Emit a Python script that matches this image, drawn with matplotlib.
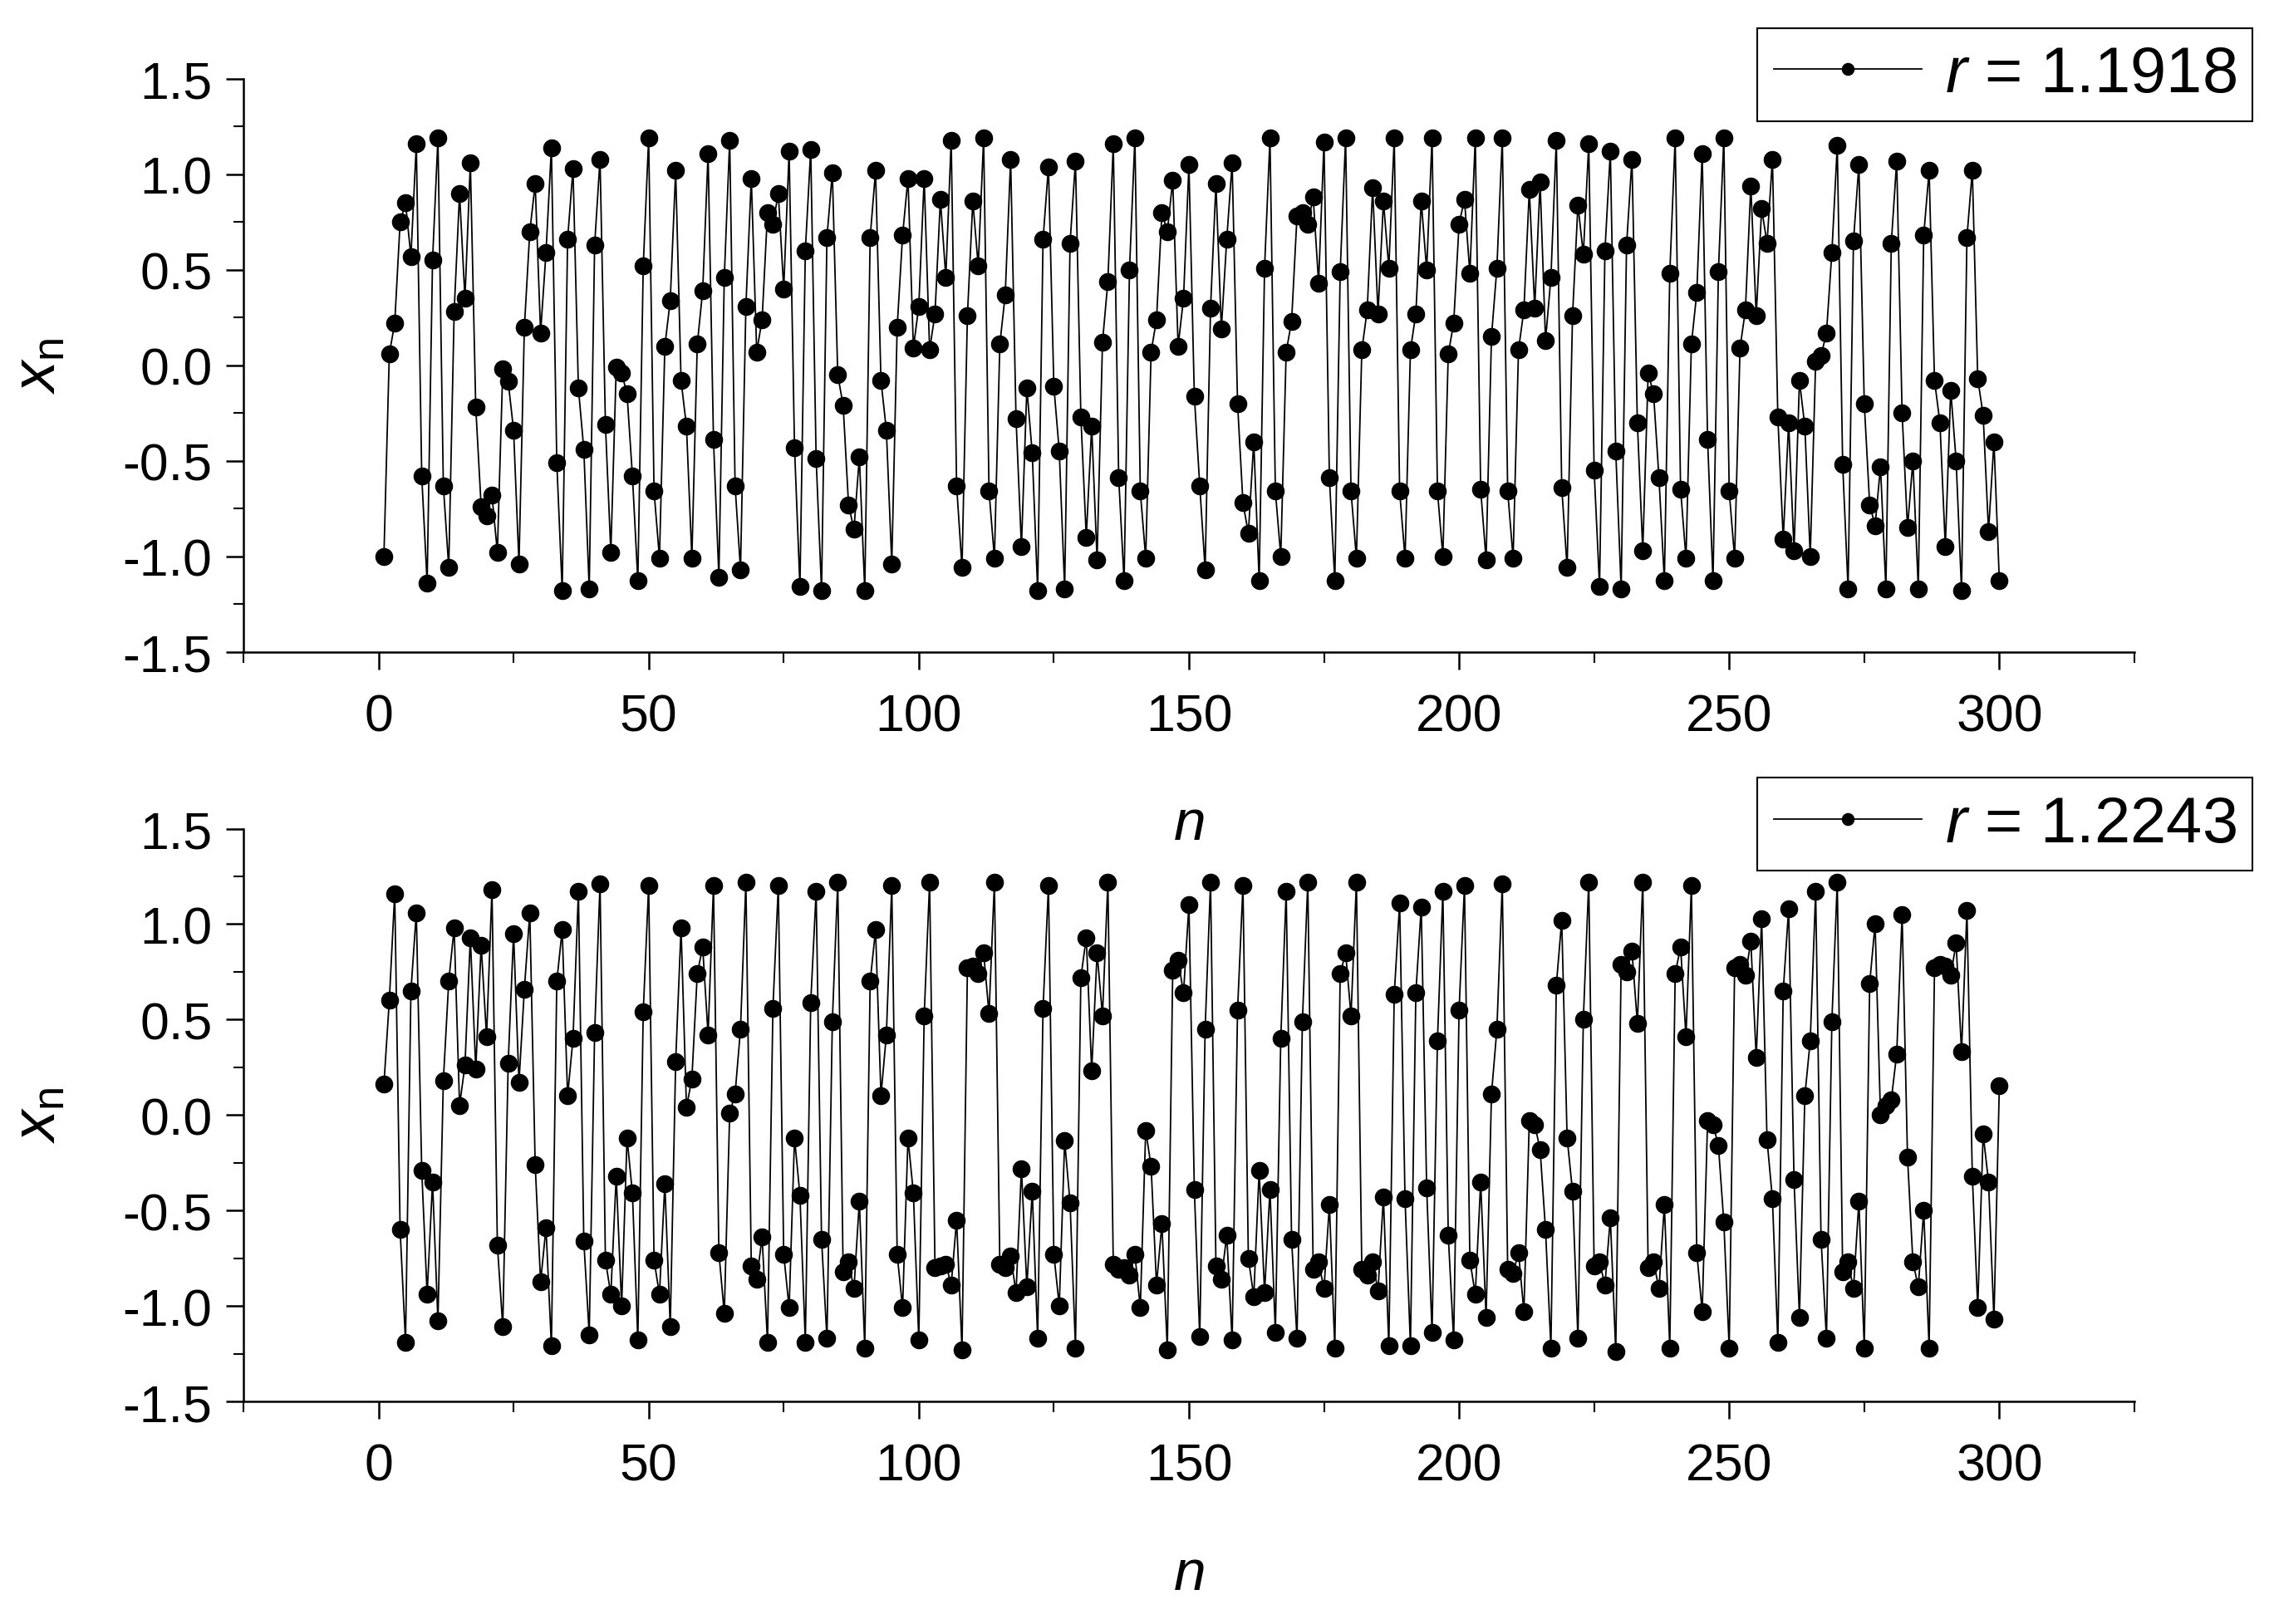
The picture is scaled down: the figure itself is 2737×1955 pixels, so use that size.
import numpy as np
import matplotlib
matplotlib.use("Agg")
import matplotlib.pyplot as plt
from matplotlib.ticker import MultipleLocator

plt.rcParams['font.family'] = ['Liberation Sans', 'DejaVu Sans']
plt.rcParams['mathtext.fontset'] = 'custom'
plt.rcParams['mathtext.rm'] = 'Liberation Sans'
plt.rcParams['mathtext.it'] = 'Liberation Sans:italic'

r_values = ["1.1918", "1.2243"]

x_top = [
    -1.00, 0.06, 0.22, 0.75, 0.85, 0.57, 1.16, -0.58, -1.14, 0.55,
    1.19, -0.63, -1.06, 0.28, 0.90, 0.35, 1.06, -0.22, -0.74, -0.79,
    -0.68, -0.98, -0.02, -0.085, -0.34, -1.04, 0.20, 0.70, 0.95, 0.17,
    0.59, 1.14, -0.51, -1.18, 0.66, 1.03, -0.12, -0.44, -1.17, 0.63,
    1.08, -0.31, -0.98, -0.01, -0.04, -0.15, -0.58, -1.13, 0.52, 1.19,
    -0.66, -1.01, 0.10, 0.34, 1.02, -0.08, -0.32, -1.01, 0.11, 0.39,
    1.11, -0.39, -1.11, 0.46, 1.18, -0.63, -1.07, 0.31, 0.98, 0.07,
    0.24, 0.80, 0.74, 0.90, 0.40, 1.12, -0.43, -1.16, 0.60, 1.13,
    -0.49, -1.18, 0.67, 1.01, -0.05, -0.21, -0.73, -0.86, -0.48, -1.18,
    0.67, 1.02, -0.08, -0.34, -1.04, 0.20, 0.68, 0.98, 0.09, 0.31,
    0.98, 0.08, 0.27, 0.87, 0.46, 1.18, -0.63, -1.06, 0.26, 0.86,
    0.52, 1.19, -0.66, -1.01, 0.11, 0.37, 1.08, -0.28, -0.95, -0.12,
    -0.46, -1.18, 0.66, 1.04, -0.11, -0.45, -1.17, 0.64, 1.07, -0.27,
    -0.90, -0.32, -1.02, 0.12, 0.44, 1.16, -0.59, -1.13, 0.50, 1.19,
    -0.66, -1.01, 0.07, 0.24, 0.80, 0.70, 0.97, 0.10, 0.35, 1.05,
    -0.16, -0.63, -1.07, 0.30, 0.95, 0.19, 0.66, 1.06, -0.20, -0.72,
    -0.88, -0.40, -1.13, 0.51, 1.19, -0.66, -1.00, 0.07, 0.23, 0.78,
    0.80, 0.74, 0.88, 0.43, 1.17, -0.59, -1.13, 0.49, 1.19, -0.66,
    -1.01, 0.08, 0.29, 0.93, 0.27, 0.86, 0.51, 1.19, -0.66, -1.01,
    0.08, 0.27, 0.86, 0.50, 1.19, -0.66, -1.00, 0.06, 0.22, 0.74,
    0.87, 0.48, 1.19, -0.65, -1.02, 0.15, 0.51, 1.19, -0.66, -1.01,
    0.08, 0.29, 0.92, 0.30, 0.96, 0.13, 0.46, 1.18, -0.64, -1.06,
    0.26, 0.84, 0.58, 1.16, -0.55, -1.16, 0.60, 1.12, -0.45, -1.17,
    0.63, 1.08, -0.30, -0.97, -0.04, -0.15, -0.59, -1.13, 0.48, 1.19,
    -0.65, -1.01, 0.11, 0.38, 1.11, -0.39, -1.13, 0.49, 1.19, -0.66,
    -1.01, 0.09, 0.29, 0.94, 0.26, 0.82, 0.64, 1.08, -0.27, -0.91,
    -0.30, -0.97, -0.08, -0.32, -1.00, 0.02, 0.05, 0.17, 0.59, 1.15,
    -0.52, -1.17, 0.65, 1.05, -0.20, -0.73, -0.84, -0.53, -1.17, 0.64,
    1.07, -0.25, -0.85, -0.50, -1.17, 0.68, 1.02, -0.08, -0.30, -0.95,
    -0.13, -0.50, -1.18, 0.67, 1.02, -0.07, -0.26, -0.87, -0.40, -1.13,
]

x_bot = [
    0.16, 0.60, 1.16, -0.60, -1.19, 0.65, 1.06, -0.29, -0.94, -0.35,
    -1.08, 0.18, 0.70, 0.98, 0.05, 0.26, 0.93, 0.24, 0.89, 0.41,
    1.18, -0.68, -1.11, 0.27, 0.95, 0.17, 0.66, 1.06, -0.26, -0.875,
    -0.59, -1.21, 0.70, 0.97, 0.10, 0.40, 1.17, -0.66, -1.15, 0.43,
    1.21, -0.76, -0.94, -0.32, -1.00, -0.12, -0.41, -1.18, 0.54, 1.20,
    -0.76, -0.94, -0.36, -1.11, 0.28, 0.98, 0.04, 0.19, 0.74, 0.88,
    0.42, 1.20, -0.72, -1.04, 0.01, 0.11, 0.45, 1.22, -0.79, -0.86,
    -0.64, -1.19, 0.56, 1.20, -0.73, -1.01, -0.12, -0.42, -1.19, 0.59,
    1.17, -0.65, -1.17, 0.49, 1.22, -0.82, -0.77, -0.91, -0.45, -1.22,
    0.70, 0.97, 0.10, 0.42, 1.20, -0.73, -1.01, -0.12, -0.41, -1.18,
    0.52, 1.22, -0.80, -0.79, -0.78, -0.89, -0.55, -1.23, 0.77, 0.78,
    0.74, 0.85, 0.53, 1.22, -0.78, -0.80, -0.74, -0.93, -0.28, -0.90,
    -0.40, -1.17, 0.56, 1.20, -0.73, -1.00, -0.135, -0.46, -1.22, 0.72,
    0.93, 0.23, 0.85, 0.52, 1.22, -0.78, -0.81, -0.80, -0.84, -0.73,
    -1.01, -0.08, -0.27, -0.89, -0.57, -1.23, 0.76, 0.81, 0.64, 1.10,
    -0.39, -1.16, 0.45, 1.22, -0.79, -0.86, -0.63, -1.18, 0.55, 1.20,
    -0.75, -0.95, -0.29, -0.93, -0.39, -1.14, 0.40, 1.17, -0.65, -1.17,
    0.49, 1.22, -0.81, -0.77, -0.91, -0.47, -1.22, 0.74, 0.85, 0.52,
    1.22, -0.81, -0.84, -0.77, -0.92, -0.43, -1.21, 0.63, 1.11, -0.44,
    -1.21, 0.64, 1.09, -0.38, -1.14, 0.39, 1.17, -0.63, -1.18, 0.55,
    1.20, -0.76, -0.94, -0.35, -1.06, 0.11, 0.45, 1.21, -0.81, -0.83,
    -0.72, -1.03, -0.03, -0.05, -0.18, -0.60, -1.22, 0.68, 1.02, -0.12,
    -0.40, -1.17, 0.50, 1.22, -0.79, -0.77, -0.89, -0.54, -1.24, 0.79,
    0.75, 0.86, 0.48, 1.22, -0.80, -0.77, -0.91, -0.47, -1.22, 0.74,
    0.88, 0.41, 1.20, -0.72, -1.03, -0.03, -0.05, -0.16, -0.56, -1.22,
    0.77, 0.79, 0.73, 0.91, 0.30, 1.03, -0.13, -0.44, -1.19, 0.65,
    1.08, -0.34, -1.06, 0.10, 0.39, 1.17, -0.65, -1.17, 0.49, 1.22,
    -0.82, -0.77, -0.91, -0.45, -1.22, 0.69, 1.00, 0.00, 0.05, 0.08,
    0.32, 1.05, -0.22, -0.77, -0.90, -0.50, -1.22, 0.77, 0.79, 0.78,
    0.73, 0.90, 0.33, 1.07, -0.32, -1.01, -0.10, -0.35, -1.07, 0.155,
]

series = [x_top, x_bot]

W, H = 2737, 1956
fig = plt.figure(figsize=(W / 100, H / 100), dpi=100)

left = 293 / W
width = (2569 - 293) / W
axes_rects = [
    [left, 1 - 785.5 / H, width, (785.5 - 96) / H],
    [left, 1 - 1688 / H, width, (1688 - 998.5) / H],
]

for rect, ys, rv in zip(axes_rects, series, r_values):
    ax = fig.add_axes(rect)
    ax.patch.set_visible(False)
    n = np.arange(1, len(ys) + 1)
    ax.plot(n, ys, color='black', linewidth=1.3, marker='o', markersize=14.5,
            markerfacecolor='black', markeredgecolor='black',
            label=r'$r$ = ' + rv)
    ax.set_xlim(-25, 325)
    ax.set_ylim(-1.5, 1.5)
    ax.xaxis.set_major_locator(MultipleLocator(50))
    ax.xaxis.set_minor_locator(MultipleLocator(25))
    ax.yaxis.set_major_locator(MultipleLocator(0.5))
    ax.yaxis.set_minor_locator(MultipleLocator(0.25))
    ax.yaxis.set_major_formatter(matplotlib.ticker.FormatStrFormatter('%.1f'))
    for s in ['top', 'right']:
        ax.spines[s].set_visible(False)
    for s in ['left', 'bottom']:
        ax.spines[s].set_linewidth(1.8)
    ax.tick_params(which='major', direction='out', length=15, width=1.8,
                   labelsize=45, pad=12)
    ax.tick_params(which='minor', direction='out', length=9, width=1.5)
    ax.tick_params(axis='x', which='major', pad=20)
    ax.set_xlabel(r'$n$', fontsize=50)
    ax.xaxis.set_label_coords(0.5, -0.255)
    ax.set_ylabel(r'$x_{\mathrm{n}}$', fontsize=54)
    ax.yaxis.set_label_coords(-0.093, 0.5)
    leg = ax.legend(loc='upper right', bbox_to_anchor=(1.0624, 1.0885),
                    borderaxespad=0, fontsize=56, frameon=True, fancybox=False,
                    framealpha=1, edgecolor='black', handlelength=2.3,
                    handletextpad=0.35, borderpad=0.25, markerscale=0.7)
    leg.get_frame().set_linewidth(1.5)

fig.savefig('out.png', dpi=100)
